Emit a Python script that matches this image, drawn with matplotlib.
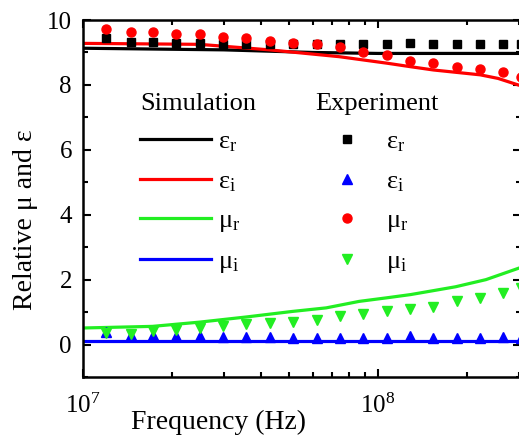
import matplotlib
matplotlib.use("Agg")
import matplotlib.pyplot as plt
from matplotlib.ticker import LogLocator, MultipleLocator

plt.rcParams["font.family"] = ["Liberation Serif", "DejaVu Serif"]
plt.rcParams["mathtext.fontset"] = "custom"
plt.rcParams["mathtext.rm"] = "Liberation Serif"
plt.rcParams["mathtext.it"] = "Liberation Serif:italic"

# simulation curves
sim_freq_er = [1.0e7, 3.0e7, 6.0e7, 1.0e8, 3.1e8]
sim_er = [9.13, 9.08, 9.00, 8.97, 8.97]

sim_freq_ei = [1.0e7, 2.48e7, 4.28e7, 7.38e7, 1.07e8, 1.29e8, 1.54e8, 2.22e8, 2.55e8, 3.1e8]
sim_ei = [9.28, 9.25, 9.08, 8.87, 8.67, 8.56, 8.46, 8.31, 8.20, 7.95]

sim_freq_mr = [1.0e7, 1.72e7, 2.48e7, 3.58e7, 5.12e7, 6.67e7, 8.63e7, 1.07e8, 1.29e8,
               1.83e8, 2.32e8, 3.1e8]
sim_mr = [0.51, 0.56, 0.69, 0.85, 1.02, 1.13, 1.33, 1.44, 1.54, 1.78, 2.00, 2.40]

sim_freq_mi = [1.0e7, 3.1e8]
sim_mi = [0.10, 0.10]

# experiment points
exp_freq = [1.2e7, 1.45e7, 1.73e7, 2.07e7, 2.49e7, 2.99e7, 3.58e7, 4.3e7, 5.16e7, 6.19e7,
            7.43e7, 8.92e7, 1.07e8, 1.28e8, 1.54e8, 1.85e8, 2.22e8, 2.66e8, 3.05e8]
exp_er = [9.45, 9.32, 9.32, 9.29, 9.29, 9.26, 9.26, 9.26, 9.26, 9.26,
          9.26, 9.26, 9.26, 9.30, 9.26, 9.26, 9.26, 9.26, 9.26]
exp_ei = [0.40, 0.30, 0.28, 0.25, 0.25, 0.22, 0.22, 0.22, 0.20, 0.20,
          0.20, 0.20, 0.20, 0.25, 0.20, 0.20, 0.20, 0.22, 0.20]
exp_mr = [9.72, 9.64, 9.62, 9.57, 9.57, 9.49, 9.44, 9.36, 9.30, 9.25,
          9.16, 9.02, 8.92, 8.74, 8.67, 8.56, 8.48, 8.41, 8.25]
exp_mi = [0.36, 0.34, 0.41, 0.46, 0.51, 0.58, 0.62, 0.67, 0.69, 0.77,
          0.87, 0.94, 1.02, 1.08, 1.16, 1.33, 1.43, 1.59, 1.74]

fig = plt.figure(figsize=(5.19, 4.42), dpi=100)
ax = fig.add_axes([83 / 519, 65 / 442, 438 / 519, 357 / 442])

lw = 2.3
l1, = ax.plot(sim_freq_er, sim_er, color="black", lw=lw, label="ε$_\\mathregular{r}$")
l2, = ax.plot(sim_freq_ei, sim_ei, color="red", lw=lw, label="ε$_\\mathregular{i}$")
l3, = ax.plot(sim_freq_mr, sim_mr, color="#22ee22", lw=lw, label="μ$_\\mathregular{r}$")
l4, = ax.plot(sim_freq_mi, sim_mi, color="blue", lw=lw, label="μ$_\\mathregular{i}$")

ms = 6.5
p1, = ax.plot(exp_freq, exp_er, "s", color="black", ms=ms - 1.2, label="ε$_\\mathregular{r}$")
p2, = ax.plot(exp_freq, exp_ei, "^", color="blue", ms=ms + 0.8, label="ε$_\\mathregular{i}$")
p3, = ax.plot(exp_freq, exp_mr, "o", color="red", ms=ms, label="μ$_\\mathregular{r}$")
p4, = ax.plot(exp_freq, exp_mi, "v", color="#22ee22", ms=ms + 0.8, label="μ$_\\mathregular{i}$")

ax.set_xscale("log")
ax.set_xlim(1e7, 3.05e8)
ax.set_ylim(-1, 10)
ax.yaxis.set_major_locator(MultipleLocator(2))
ax.yaxis.set_minor_locator(MultipleLocator(1))
ax.xaxis.set_major_locator(LogLocator(base=10))
ax.xaxis.set_minor_locator(LogLocator(base=10, subs=range(2, 10)))

ax.tick_params(which="both", direction="in", top=True, right=True, width=1.5,
               labelsize=18)
ax.tick_params(which="major", length=6, pad=8)
ax.tick_params(which="minor", length=3.5)
ax.tick_params(axis="x", which="major", pad=12)
for s in ax.spines.values():
    s.set_linewidth(1.8)

ax.set_xlabel("Frequency (Hz)", fontsize=20)
ax.xaxis.set_label_coords(0.31, -0.126)
ax.xaxis.label.set_va("center")
ax.set_ylabel("Relative μ and ε", fontsize=20)
ax.yaxis.set_label_coords(-0.132, 0.44)
ax.yaxis.label.set_va("center")

leg1 = ax.legend(handles=[l1, l2, l3, l4], title="Simulation", loc="upper left",
                 bbox_to_anchor=(0.13, 0.796), frameon=False, fontsize=19,
                 title_fontsize=19, alignment="left", borderpad=0, borderaxespad=0,
                 handlelength=2.7, handletextpad=0.25, labelspacing=0.58)
ax.add_artist(leg1)
ax.legend(handles=[p1, p2, p3, p4], title="Experiment", loc="upper left",
          bbox_to_anchor=(0.53, 0.796), frameon=False, fontsize=19,
          title_fontsize=19, alignment="left", borderpad=0, borderaxespad=0,
          handlelength=2.4, handletextpad=0.3, labelspacing=0.58)

fig.savefig("out.png", dpi=100)
